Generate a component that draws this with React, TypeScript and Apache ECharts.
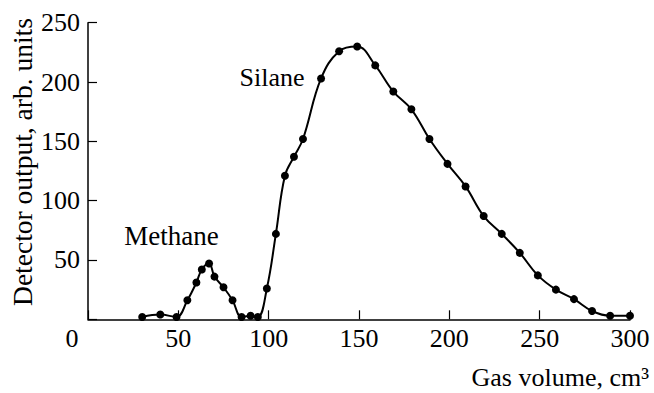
import React, { useEffect, useRef } from "react";
import * as echarts from "echarts";

const gasVolume = [30, 40, 49, 55, 60, 63, 67, 70, 75, 80, 85, 90, 94, 99, 104, 109, 114, 119, 129, 139, 149, 159, 169, 179, 189, 199, 209, 219, 229, 239, 249, 259, 269, 279, 289, 300];
const detector = [2, 4, 2, 16, 31, 42, 47, 36, 27, 16, 2, 3, 2, 26, 72, 121, 137, 152, 203, 226, 230, 214, 192, 177, 152, 131, 112, 87, 72, 56, 37, 25, 17, 7, 3, 3];
const xTicks = [0, 50, 100, 150, 200, 250, 300];
const yTicks = [0, 50, 100, 150, 200, 250];

const FONT = "Liberation Serif";
const FS = 26;

export default function App() {
  const ref = useRef<HTMLDivElement>(null);
  useEffect(() => {
    if (!ref.current) return;
    const chart = echarts.init(ref.current, undefined, { renderer: "svg" });
    const data = gasVolume.map((x, i) => [x, detector[i]]);
    const txt = (text: string, x: number, y: number, align: string, size: number, extra: any = {}) => ({
      type: "text",
      x,
      y,
      ...extra,
      style: { text, fontFamily: FONT, fontSize: size, fill: "#000", textAlign: align, textVerticalAlign: "middle" },
    });
    chart.setOption({
      animation: false,
      backgroundColor: "#fff",
      textStyle: { fontFamily: FONT },
      grid: { left: 88, right: 24, top: 22.7, bottom: 73.7, containLabel: false },
      xAxis: {
        type: "value",
        min: xTicks[0],
        max: xTicks[xTicks.length - 1],
        interval: 50,
        axisLine: { onZero: false, lineStyle: { color: "#000", width: 1.5 } },
        axisTick: { inside: true, length: 9, lineStyle: { color: "#000", width: 1.2 } },
        axisLabel: {
          margin: 6,
          color: "#000",
          fontFamily: FONT,
          fontSize: FS,
          formatter: (v: number) => (v === 0 ? "" : String(v)),
        },
        splitLine: { show: false },
      },
      yAxis: {
        type: "value",
        min: yTicks[0],
        max: yTicks[yTicks.length - 1],
        interval: 50,
        axisLine: { show: true, lineStyle: { color: "#000", width: 1.5 } },
        axisTick: { show: true, inside: true, length: 9, lineStyle: { color: "#000", width: 1.2 } },
        axisLabel: {
          margin: 8,
          color: "#000",
          fontFamily: FONT,
          fontSize: FS,
          formatter: (v: number) => (v === 0 ? "" : String(v)),
        },
        splitLine: { show: false },
      },
      series: [
        {
          type: "line",
          data,
          smooth: 0.4,
          symbol: "circle",
          symbolSize: 8,
          itemStyle: { color: "#000" },
          lineStyle: { color: "#000", width: 2 },
        },
      ],
      graphic: [
        txt("0", 72, 338, "center", FS),
        txt("Silane", 272, 77, "center", 26),
        txt("Methane", 171.5, 236, "center", 27),
        txt("Detector output, arb. units", 22, 162, "center", 27.5, { rotation: Math.PI / 2 }),
        txt("Gas volume, cm³", 649, 377, "right", 26),
      ],
    });
    return () => chart.dispose();
  }, []);
  return <div ref={ref} style={{ position: "fixed", left: 0, top: 0, width: 654, height: 393 }} />;
}
